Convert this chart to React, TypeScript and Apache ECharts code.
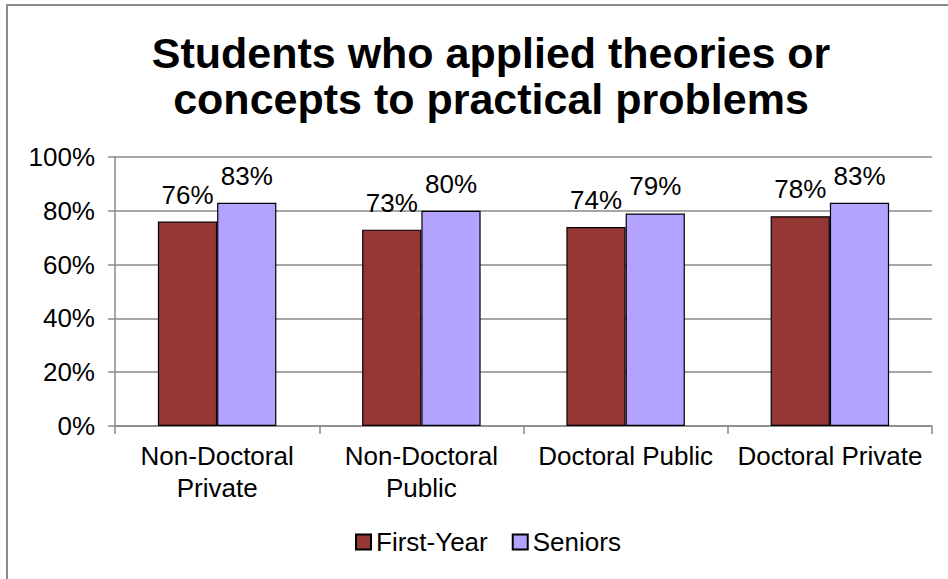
import React, { useEffect, useRef } from "react";
import * as echarts from "echarts";

const categories = ["Non-Doctoral\nPrivate", "Non-Doctoral\nPublic", "Doctoral Public", "Doctoral Private"];
const firstYear = [76, 73, 74, 78];
const seniors = [83, 80, 79, 83];
const yTicks = [0, 20, 40, 60, 80, 100];
const titleText = "Students who applied theories or\nconcepts to practical problems";

export default function App() {
  const ref = useRef<HTMLDivElement>(null);
  useEffect(() => {
    document.body.style.margin = "0";
    const chart = echarts.init(ref.current!, undefined, { renderer: "svg" });
    const font = "'Liberation Sans', Arial, sans-serif";
    const label = {
      show: true,
      position: "top",
      distance: 14,
      formatter: (p: any) => p.value + "%",
      color: "#000",
      fontSize: 26,
      fontFamily: font,
    };
    chart.setOption({
      animation: false,
      backgroundColor: "#fff",
      textStyle: { fontFamily: font },
      title: {
        text: titleText,
        left: 486,
        textAlign: "center",
        top: 25,
        textStyle: { fontSize: 43, fontWeight: "bold", color: "#000", lineHeight: 46, fontFamily: font },
      },
      graphic: [
        {
          type: "rect",
          shape: { x: 7, y: 5, width: 960, height: 600 },
          style: { fill: "none", stroke: "#8c8c8c", lineWidth: 2 },
          silent: true,
        },
      ],
      legend: {
        bottom: 19,
        left: 350,
        itemWidth: 15,
        itemHeight: 15,
        itemGap: 24,
        icon: "rect",
        textStyle: { fontSize: 26, color: "#000", fontFamily: font, padding: [0, 0, 0, 0] },
        data: ["First-Year", "Seniors"],
      },
      grid: { left: 115, right: 16, top: 157, bottom: 153, containLabel: false },
      xAxis: {
        type: "category",
        data: categories,
        axisLine: { lineStyle: { color: "#888", width: 1.5 } },
        axisTick: { show: true, length: 8, lineStyle: { color: "#888", width: 1.5 } },
        axisLabel: { interval: 0, fontSize: 26, color: "#000", lineHeight: 32, margin: 14, fontFamily: font },
      },
      yAxis: {
        type: "value",
        min: yTicks[0],
        max: yTicks[yTicks.length - 1],
        interval: 20,
        axisLine: { show: true, lineStyle: { color: "#888", width: 1.5 } },
        axisTick: { show: true, length: 7, lineStyle: { color: "#888", width: 1.5 } },
        splitLine: { lineStyle: { color: "#888", width: 1.5 } },
        axisLabel: { formatter: "{value}%", fontSize: 26, color: "#000", margin: 20, fontFamily: font },
      },
      series: [
        {
          name: "First-Year",
          type: "bar",
          data: firstYear,
          barGap: "0%",
          barCategoryGap: "42%",
          itemStyle: { color: "#953735", borderColor: "#000", borderWidth: 1.2 },
          label,
        },
        {
          name: "Seniors",
          type: "bar",
          data: seniors,
          itemStyle: { color: "#b3a3ff", borderColor: "#000", borderWidth: 1.2 },
          label,
        },
      ],
    });
    return () => chart.dispose();
  }, []);
  return <div ref={ref} style={{ width: 948, height: 579 }} />;
}
